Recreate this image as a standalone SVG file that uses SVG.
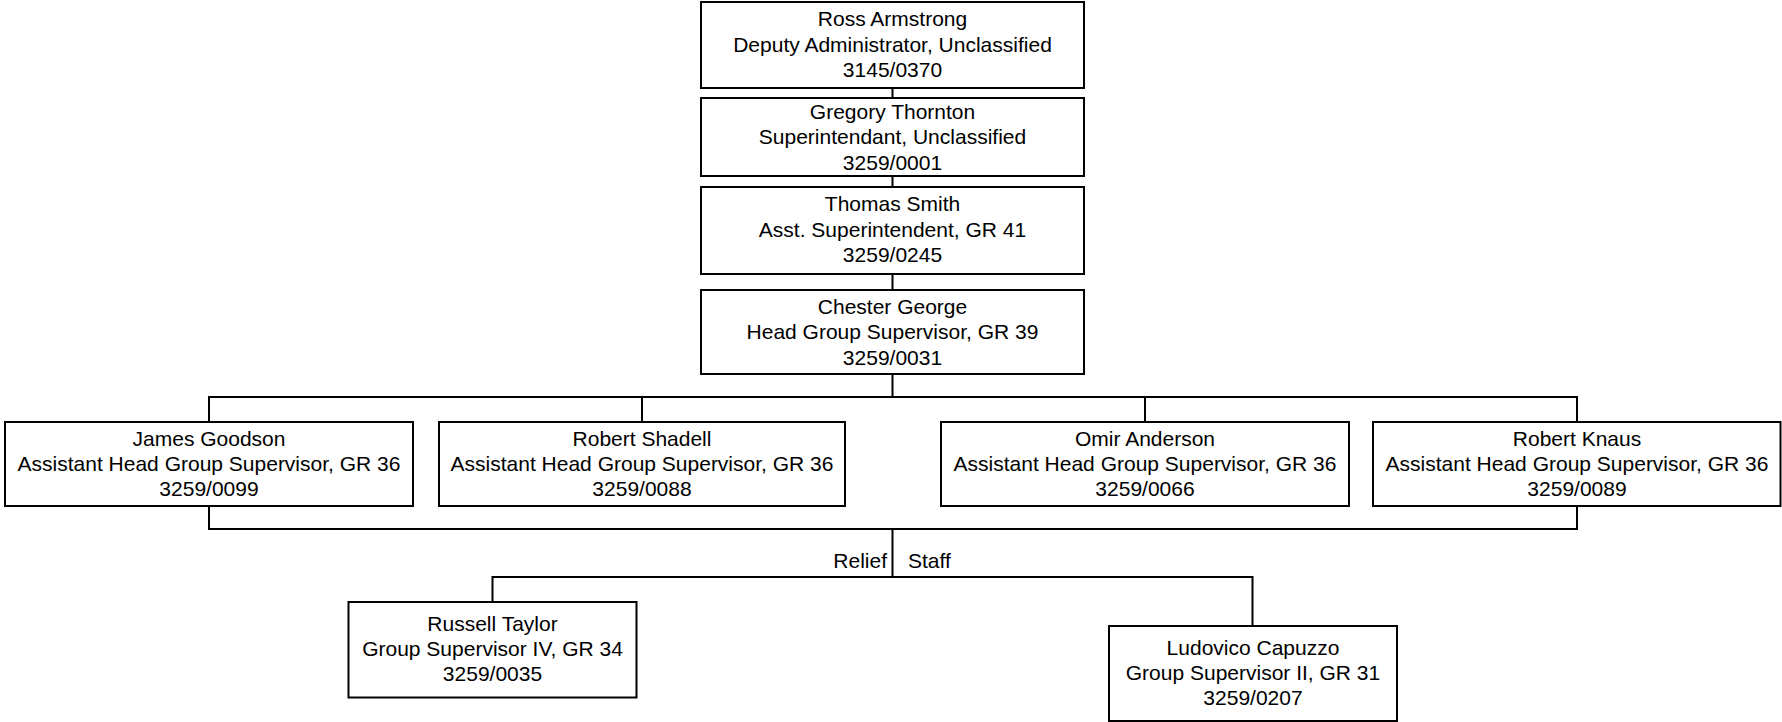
<svg xmlns="http://www.w3.org/2000/svg" width="1782" height="722" viewBox="0 0 1782 722">
<style>
.box{fill:#fff;stroke:#000;stroke-width:2}
.t{font-family:"Liberation Sans",Arial,sans-serif;font-size:21px;fill:#000;text-anchor:middle}
.lbl{font-family:"Liberation Sans",Arial,sans-serif;font-size:21px;fill:#000}
.c{fill:none;stroke:#000;stroke-width:2}
</style>
<rect width="1782" height="722" fill="#fff"/>
<g id="connectors">
<path class="c" d="M892.5 88V98M892.5 176V187M892.5 274V290M892.5 374V397"/>
<path class="c" d="M209 422V397H1577V422M642 397V422M1145 397V422"/>
<path class="c" d="M209 506V529H1577V506M892.5 529V577"/>
<path class="c" d="M492.5 602V577H1252.5V626"/>
<text class="lbl" x="887" y="568" text-anchor="end">Relief</text>
<text class="lbl" x="908" y="568">Staff</text>
</g>
<g id="ross">
<rect class="box" x="701" y="2" width="383" height="86"/>
<text class="t" x="892.5" y="26">Ross Armstrong</text>
<text class="t" x="892.5" y="51.5">Deputy Administrator, Unclassified</text>
<text class="t" x="892.5" y="77">3145/0370</text>
</g>
<g id="gregory">
<rect class="box" x="701" y="98" width="383" height="78"/>
<text class="t" x="892.5" y="118.5">Gregory Thornton</text>
<text class="t" x="892.5" y="144">Superintendant, Unclassified</text>
<text class="t" x="892.5" y="169.5">3259/0001</text>
</g>
<g id="thomas">
<rect class="box" x="701" y="187" width="383" height="87"/>
<text class="t" x="892.5" y="211">Thomas Smith</text>
<text class="t" x="892.5" y="236.5">Asst. Superintendent, GR 41</text>
<text class="t" x="892.5" y="262">3259/0245</text>
</g>
<g id="chester">
<rect class="box" x="701" y="290" width="383" height="84"/>
<text class="t" x="892.5" y="313.5">Chester George</text>
<text class="t" x="892.5" y="339">Head Group Supervisor, GR 39</text>
<text class="t" x="892.5" y="364.5">3259/0031</text>
</g>
<g id="james">
<rect class="box" x="5" y="422" width="408" height="84"/>
<text class="t" x="209" y="445.5">James Goodson</text>
<text class="t" x="209" y="471">Assistant Head Group Supervisor, GR 36</text>
<text class="t" x="209" y="496">3259/0099</text>
</g>
<g id="shadell">
<rect class="box" x="439" y="422" width="406" height="84"/>
<text class="t" x="642" y="445.5">Robert Shadell</text>
<text class="t" x="642" y="471">Assistant Head Group Supervisor, GR 36</text>
<text class="t" x="642" y="496">3259/0088</text>
</g>
<g id="omir">
<rect class="box" x="941" y="422" width="408" height="84"/>
<text class="t" x="1145" y="445.5">Omir Anderson</text>
<text class="t" x="1145" y="471">Assistant Head Group Supervisor, GR 36</text>
<text class="t" x="1145" y="496">3259/0066</text>
</g>
<g id="knaus">
<rect class="box" x="1373" y="422" width="407.5" height="84"/>
<text class="t" x="1577" y="445.5">Robert Knaus</text>
<text class="t" x="1577" y="471">Assistant Head Group Supervisor, GR 36</text>
<text class="t" x="1577" y="496">3259/0089</text>
</g>
<g id="russell">
<rect class="box" x="348.5" y="602" width="288" height="95.5"/>
<text class="t" x="492.5" y="631">Russell Taylor</text>
<text class="t" x="492.5" y="656">Group Supervisor IV, GR 34</text>
<text class="t" x="492.5" y="680.5">3259/0035</text>
</g>
<g id="ludovico">
<rect class="box" x="1109" y="626" width="288" height="95"/>
<text class="t" x="1253" y="655">Ludovico Capuzzo</text>
<text class="t" x="1253" y="680">Group Supervisor II, GR 31</text>
<text class="t" x="1253" y="705">3259/0207</text>
</g>
</svg>
